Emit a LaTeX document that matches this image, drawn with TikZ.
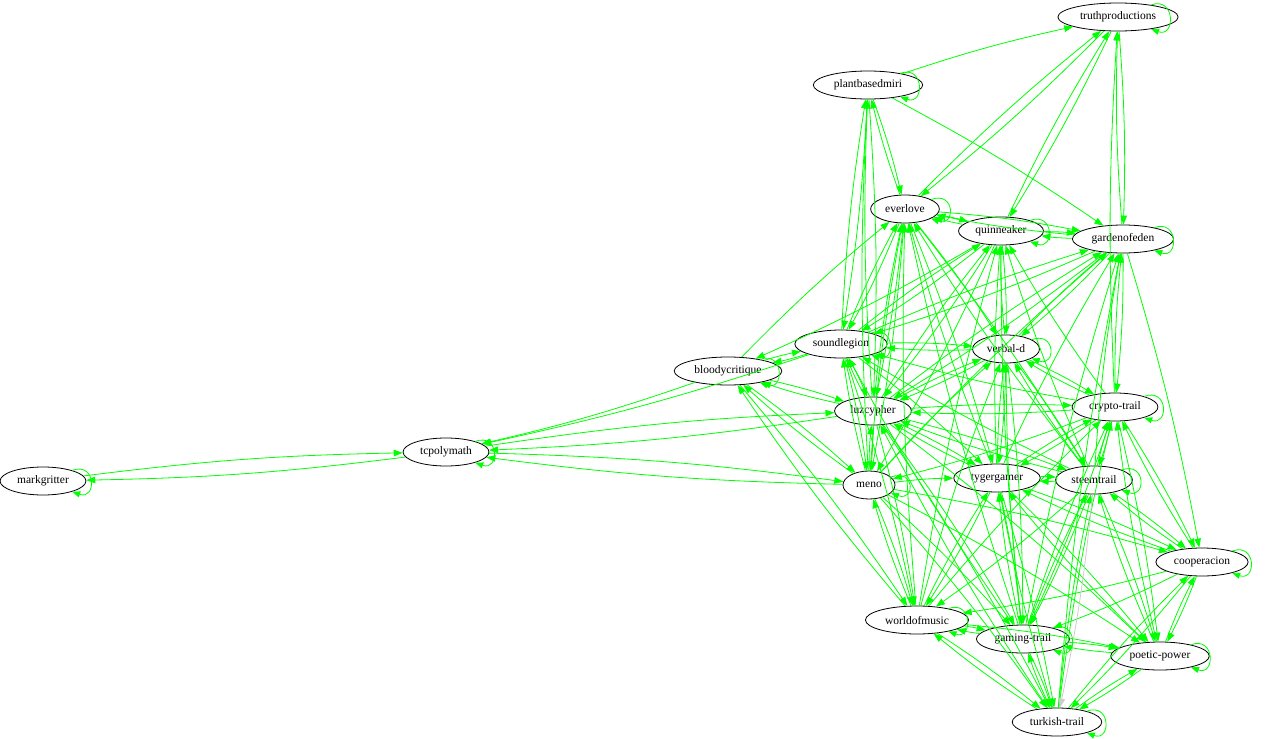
\documentclass[tikz,border=0pt]{standalone}
\usepackage{fontspec}
\setmainfont{Liberation Serif}
\usetikzlibrary{shapes.geometric,arrows.meta}
\definecolor{edgegreen}{RGB}{0,255,0}
\tikzset{
  user/.style={ellipse, draw, thick, inner xsep=4.5pt, inner ysep=2pt,
    minimum height=28pt, minimum width=52pt, font=\fontsize{11.5}{13}\selectfont},
  link/.style={edgegreen, line width=0.8pt, -{Triangle[length=9pt,width=6.5pt]}, bend left=3},
  selfloop/.style={edgegreen, line width=0.8pt, -{Triangle[length=8pt,width=6pt]},
    out=20, in=-20, loop, min distance=26pt, looseness=0.5},
  every loop/.style={}
}
\begin{document}
\begin{tikzpicture}[x=1pt, y=-1pt]
    \useasboundingbox (0,0) rectangle (1280,739);
    \node[user] (tp) at (1118,17) {truthproductions};
    \node[user] (pbm) at (868,85) {plantbasedmiri};
    \node[user] (ev) at (905,209) {everlove};
    \node[user] (qn) at (1001,231) {quinneaker};
    \node[user] (ge) at (1123,239) {gardenofeden};
    \node[user] (sl) at (841,344) {soundlegion};
    \node[user] (vd) at (1006,349) {verbal-d};
    \node[user] (bc) at (728,371) {bloodycritique};
    \node[user] (lz) at (873,411) {luzcypher};
    \node[user] (ct) at (1115,407) {crypto-trail};
    \node[user] (tc) at (446,452) {tcpolymath};
    \node[user] (mg) at (43,481) {markgritter};
    \node[user] (mn) at (869,485) {meno};
    \node[user] (tg) at (997,478) {tygergamer};
    \node[user] (st) at (1094,480) {steemtrail};
    \node[user] (co) at (1202,562) {cooperacion};
    \node[user] (wm) at (917,620) {worldofmusic};
    \node[user] (gt) at (1023,639) {gaming-trail};
    \node[user] (pp) at (1160,656) {poetic-power};
    \node[user] (tt) at (1057,722) {turkish-trail};
    % links
    \draw[link] (mg) edge (tc);
    \draw[link] (tc) edge (mg) edge (lz) edge (mn);
    \draw[link] (bc) edge (ev) edge (sl) edge (lz) edge (mn) edge (wm) edge (tc);
    \draw[link] (sl) edge (pbm) edge (ev) edge (qn) edge (ge) edge (bc) edge (vd)
      edge (lz) edge (mn) edge (tg) edge (wm) edge (tc);
    \draw[link] (pbm) edge (tp) edge (ev) edge (ge) edge (sl) edge (lz);
    \draw[link] (tp) edge (ev) edge (qn) edge (ge);
    \draw[link] (ev) edge (pbm) edge (tp) edge (qn) edge (ge) edge (sl) edge (vd)
      edge (lz) edge (mn) edge (tg) edge (st);
    \draw[link] (qn) edge (tp) edge (ev) edge (ge) edge (sl) edge (vd) edge (lz)
      edge (mn) edge (bc);
    \draw[link] (ge) edge (tp) edge (qn) edge (ev) edge (sl) edge (vd) edge (lz)
      edge (ct) edge (co);
    \draw[link] (vd) edge (qn) edge (ge) edge (sl) edge (lz) edge (st) edge (tg)
      edge (ct) edge (gt);
    \draw[link] (lz) edge (pbm) edge (ev) edge (qn) edge (ge) edge (sl) edge (vd)
      edge (bc) edge (ct) edge (mn) edge (tg) edge (st) edge (tc) edge (wm)
      edge (gt) edge (tt) edge (pp);
    \draw[link] (ct) edge (tp) edge (qn) edge (ge) edge (sl) edge (vd) edge (lz)
      edge (mn) edge (st) edge (tg) edge (co) edge (pp) edge (gt);
    \draw[link] (mn) edge (pbm) edge (ev) edge (sl) edge (vd) edge (lz) edge (bc)
      edge (ge) edge (tc) edge (tg) edge (wm) edge (gt) edge (co) edge (tt) edge (pp);
    \draw[link] (tg) edge (ev) edge (qn) edge (ge) edge (vd) edge (lz) edge (ct)
      edge (st) edge (co) edge (wm) edge (gt) edge (tt) edge (pp);
    \draw[link] (st) edge (ev) edge (qn) edge (ge) edge (sl) edge (vd) edge (lz)
      edge (ct) edge (tg) edge (co) edge (wm) edge (gt) edge (pp);
    \draw[link] (co) edge (ct) edge (tg) edge (st) edge (wm) edge (gt) edge (pp) edge (tt);
    \draw[link] (wm) edge (ev) edge (qn) edge (vd) edge (bc) edge (mn) edge (tg)
      edge (ct) edge (gt) edge (tt) edge (pp);
    \draw[link] (gt) edge (ev) edge (qn) edge (ge) edge (sl) edge (vd) edge (ct)
      edge (tg) edge (st) edge (wm) edge (pp) edge (tt);
    \draw[link] (pp) edge (ct) edge (tg) edge (st) edge (co) edge (gt) edge (tt);
    \draw[link] (tt) edge (ge) edge (lz) edge (ct) edge (tg) edge (st) edge (co)
      edge (wm) edge (gt) edge (pp);
    \draw[link, gray!40] (st) edge (tt);
    % self loops
    \foreach \n in {tp,pbm,ev,qn,ge,sl,vd,bc,ct,mn,st,co,wm,gt,pp,tt,tc,mg}
      \path (\n) edge[selfloop] (\n);
  \end{tikzpicture}
\end{document}
